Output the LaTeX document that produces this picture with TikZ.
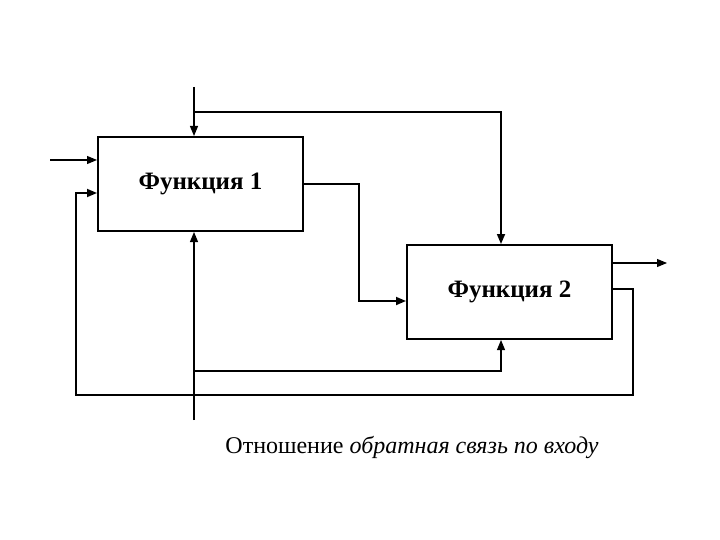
\documentclass[tikz,border=0pt]{standalone}
\usepackage{fontspec}
\setmainfont{Liberation Serif}
\usetikzlibrary{arrows.meta,calc}

\tikzset{
  func/.style={draw, line width=2pt, minimum width=205pt, minimum height=94pt,
    font=\fontsize{25}{30}\selectfont\bfseries},
  link/.style={line width=1.7pt, -{Triangle[length=10pt,width=8pt]}},
  thinlink/.style={line width=1.1pt, -{Triangle[length=10pt,width=8pt]}}
}

\begin{document}
\begin{tikzpicture}[x=1pt,y=-1pt]
\useasboundingbox (0,0) rectangle (720,540);
% functions
\node [func] (f1) at (200.5,184) {Функция 1};
\node [func] (f2) at (509.5,292) {Функция 2};
% free ends
\coordinate (in1) at (50,160);
\coordinate (ctop) at (194,87);
\coordinate (cbr) at (194,112);
\coordinate (mbot) at (194,420);
\coordinate (mbr) at (194,371);
\coordinate (out2) at (667,263);
% input
\draw [thinlink] (in1) -- (in1 -| f1.west);
% control
\draw [thinlink] (ctop) -- (ctop |- f1.north);
\draw [link] (cbr) -| ([xshift=-8.5pt]f2.north);
% function 1 to function 2
\draw [link] (f1.east) -| (359,301) -- ([yshift=-9pt]f2.west);
% mechanism
\draw [thinlink] (mbot) -- (mbot |- f1.south);
\draw [thinlink] (mbr) -| ([xshift=-8.5pt]f2.south);
% output
\draw [thinlink] ([yshift=29pt]f2.east) -- (out2);
% feedback to input
\draw [link] ([yshift=3pt]f2.east) -| (633,395) -| (76,193) -- ([yshift=-9pt]f1.west);
% caption
\node (cap) at (412,447) {\fontsize{24}{28}\selectfont Отношение \textit{обратная связь по входу}};
\end{tikzpicture}
\end{document}
